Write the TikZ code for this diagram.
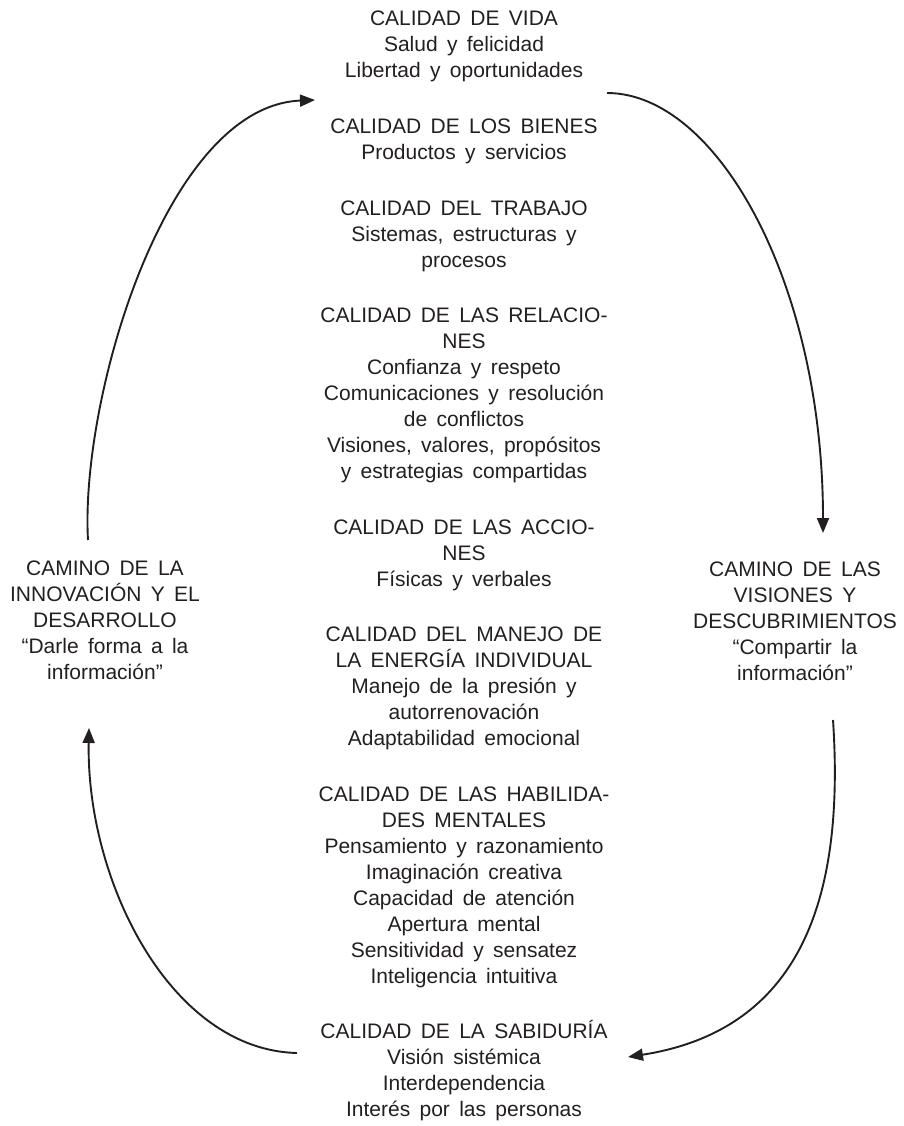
\documentclass[tikz,border=0pt]{standalone}
\usepackage{fontspec}
\setmainfont{Liberation Sans}[WordSpace=1.6]
\usetikzlibrary{arrows.meta}
\definecolor{ink}{HTML}{231F20}
\begin{document}
\begin{tikzpicture}[x=1pt,y=-1pt,
  txt/.style={align=center, font=\fontsize{21}{26}\selectfont, text=ink, inner sep=0pt, anchor=base},
  arr/.style={draw=ink, line width=1.9pt, -{Triangle[length=15pt,width=12pt]}}]
\useasboundingbox (0,0) rectangle (904,1126);
% central column (y = baseline of the last line of each block)
\node[txt] (vida) at (464,78) {CALIDAD DE VIDA\\Salud y felicidad\\Libertad y oportunidades};
\node[txt] (bienes) at (464,159.5) {CALIDAD DE LOS BIENES\\Productos y servicios};
\node[txt] (trabajo) at (464,267) {CALIDAD DEL TRABAJO\\Sistemas, estructuras y\\procesos};
\node[txt] (relaciones) at (464,478.5) {CALIDAD DE LAS RELACIO-\\NES\\Confianza y respeto\\Comunicaciones y resolución\\de conflictos\\Visiones, valores, propósitos\\y estrategias compartidas};
\node[txt] (acciones) at (464,586) {CALIDAD DE LAS ACCIO-\\NES\\Físicas y verbales};
\node[txt] (energia) at (464,745.5) {CALIDAD DEL MANEJO DE\\LA ENERGÍA INDIVIDUAL\\Manejo de la presión y\\autorrenovación\\Adaptabilidad emocional};
\node[txt] (mentales) at (464,983) {CALIDAD DE LAS HABILIDA-\\DES MENTALES\\Pensamiento y razonamiento\\Imaginación creativa\\Capacidad de atención\\Apertura mental\\Sensitividad y sensatez\\Inteligencia intuitiva};
\node[txt] (sabiduria) at (464,1116.5) {CALIDAD DE LA SABIDURÍA\\Visión sistémica\\Interdependencia\\Interés por las personas};
% side labels
\node[txt] (innovacion) at (105,679) {CAMINO DE LA\\INNOVACIÓN Y EL\\DESARROLLO\\“Darle forma a la\\información”};
\node[txt] (visiones) at (795,680) {CAMINO DE LAS\\VISIONES Y\\DESCUBRIMIENTOS\\“Compartir la\\información”};
% connector end points
\coordinate (a1s) at (607,93);
\coordinate (a1e) at (823,533);
\coordinate (a2s) at (833,720);
\coordinate (a2e) at (628,1057);
\coordinate (a3s) at (297,1053);
\coordinate (a3e) at (89,728);
\coordinate (a4s) at (88,540);
\coordinate (a4e) at (315,100);
\draw[arr] (a1s) .. controls (717,93) and (823,283) .. (a1e);
\draw[arr] (a2s) .. controls (845,900) and (800,1030) .. (a2e);
\draw[arr] (a3s) .. controls (170,1050) and (86,880) .. (a3e);
\draw[arr] (a4s) .. controls (80,400) and (165,106) .. (a4e);
\end{tikzpicture}
\end{document}
